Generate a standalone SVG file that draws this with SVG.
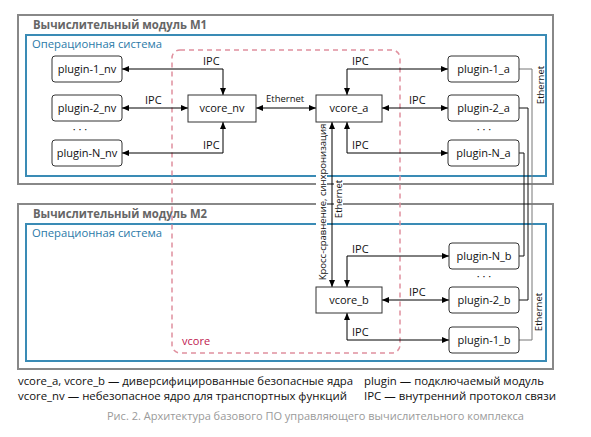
<svg xmlns="http://www.w3.org/2000/svg" width="591" height="437" viewBox="0 0 591 437">
<defs>
<marker id="ah" viewBox="0 0 7 6" refX="7" refY="3" markerWidth="7" markerHeight="6" markerUnits="userSpaceOnUse" orient="auto-start-reverse">
<path d="M0,0 L7,3 L0,6 z" fill="#000"/>
</marker>
</defs>
<style>
text{font-family:"Open Sans","DejaVu Sans",sans-serif;}
.mod{fill:none;stroke:#888;stroke-width:2;}
.os{fill:none;stroke:#3a8bb5;stroke-width:2;}
.mt{font-size:11.5px;font-weight:bold;fill:#666;}
.ot{font-size:11.3px;fill:#2a7aa8;}
.vc{fill:none;stroke:#e0909e;stroke-width:1.5;stroke-dasharray:5,4;}
.vl{font-size:11px;fill:#c0174f;}
.pl{fill:#fff;stroke:#333;stroke-width:1;}
.nt{font-size:11px;fill:#111;text-anchor:middle;}
.cn{fill:none;stroke:#000;stroke-width:1;marker-start:url(#ah);marker-end:url(#ah);}
.el{fill:none;stroke:#111;stroke-width:1;}
.lb{font-size:11px;fill:#111;}
.sm{font-size:9.5px;fill:#111;}
.dots{font-size:11px;fill:#111;text-anchor:middle;}
.lg{font-size:11.3px;fill:#111;}
.cap{font-size:11px;fill:#9a9a9a;}
</style>

<g id="module-m1">
<rect class="mod" x="18" y="15" width="535" height="169"/>
<text class="mt" x="33" y="29" textLength="174" lengthAdjust="spacingAndGlyphs">Вычислительный модуль М1</text>
<rect class="os" x="26" y="35" width="520" height="141"/>
<text class="ot" x="32" y="48" textLength="130" lengthAdjust="spacingAndGlyphs">Операционная система</text>
</g>

<g id="module-m2">
<rect class="mod" x="18" y="204" width="535" height="165"/>
<text class="mt" x="33" y="218" textLength="174" lengthAdjust="spacingAndGlyphs">Вычислительный модуль М2</text>
<rect class="os" x="26" y="224" width="520" height="137"/>
<text class="ot" x="32" y="237" textLength="130" lengthAdjust="spacingAndGlyphs">Операционная система</text>
</g>

<g id="vcore-area">
<rect class="vc" x="172" y="50" width="228" height="303" rx="8"/>
<text class="vl" x="182" y="345">vcore</text>
</g>

<g id="connectors">
<path class="cn" d="M122,69 H223 V95"/>
<path class="cn" d="M122,108 H188"/>
<path class="cn" d="M122,153 H223 V122"/>
<path class="cn" d="M256,108 H316"/>
<path class="cn" d="M448,69 H347 V95"/>
<path class="cn" d="M382,108 H448"/>
<path class="cn" d="M448,153 H347 V122"/>
<path class="cn" d="M449,256 H347 V287"/>
<path class="cn" d="M382,300 H449"/>
<path class="cn" d="M449,340 H347 V313"/>
<rect x="316" y="128" width="11" height="150" fill="#fff"/>
<rect x="334" y="180" width="9" height="39" fill="#fff"/>
<path class="cn" d="M332,122 V287"/>
<path class="el" style="stroke:#777" d="M519,69 H532 V340 H519"/>
<path class="el" d="M519,108 H528 V300 H519"/>
<path class="el" d="M519,153 H524 V256 H519"/>
<text class="lb" x="203" y="65">IPC</text>
<text class="lb" x="145" y="104">IPC</text>
<text class="lb" x="203" y="149">IPC</text>
<text class="sm" x="266" y="102">Ethernet</text>
<text class="lb" x="352" y="65">IPC</text>
<text class="lb" x="409" y="104">IPC</text>
<text class="lb" x="352" y="149">IPC</text>
<text class="lb" x="352" y="253">IPC</text>
<text class="lb" x="409" y="296">IPC</text>
<text class="lb" x="352" y="336">IPC</text>
<text class="sm" text-anchor="middle" transform="translate(325.5,202) rotate(-90)">Кросс-сравнение, синхронизация</text>
<text class="sm" text-anchor="middle" transform="translate(341.5,199) rotate(-90)">Ethernet</text>
<text class="sm" text-anchor="middle" transform="translate(544,85) rotate(-90)">Ethernet</text>
<text class="sm" text-anchor="middle" transform="translate(542,312) rotate(-90)">Ethernet</text>
</g>

<g id="plugin-1_nv"><rect class="pl" x="52" y="56" width="70" height="26" rx="3"/><text class="nt" x="87" y="73">plugin-1_nv</text></g>
<g id="plugin-2_nv"><rect class="pl" x="52" y="95" width="70" height="26" rx="3"/><text class="nt" x="87" y="112">plugin-2_nv</text></g>
<text class="dots" x="80" y="133">· · ·</text>
<g id="plugin-N_nv"><rect class="pl" x="52" y="140" width="70" height="26" rx="3"/><text class="nt" x="87" y="157">plugin-N_nv</text></g>

<g id="vcore_nv"><rect class="pl" x="188" y="95" width="68" height="27"/><text class="nt" x="222" y="112">vcore_nv</text></g>
<g id="vcore_a"><rect class="pl" x="316" y="95" width="66" height="27"/><text class="nt" x="349" y="112">vcore_a</text></g>
<g id="vcore_b"><rect class="pl" x="316" y="287" width="66" height="26"/><text class="nt" x="349" y="304">vcore_b</text></g>

<g id="plugin-1_a"><rect class="pl" x="448" y="56" width="71" height="26" rx="3"/><text class="nt" x="483.5" y="73">plugin-1_a</text></g>
<g id="plugin-2_a"><rect class="pl" x="448" y="95" width="71" height="26" rx="3"/><text class="nt" x="483.5" y="112">plugin-2_a</text></g>
<text class="dots" x="484" y="133">· · ·</text>
<g id="plugin-N_a"><rect class="pl" x="448" y="140" width="71" height="26" rx="3"/><text class="nt" x="483.5" y="157">plugin-N_a</text></g>

<g id="plugin-N_b"><rect class="pl" x="449" y="243" width="70" height="26" rx="3"/><text class="nt" x="484" y="260">plugin-N_b</text></g>
<text class="dots" x="484" y="280">· · ·</text>
<g id="plugin-2_b"><rect class="pl" x="449" y="287" width="70" height="26" rx="3"/><text class="nt" x="484" y="304">plugin-2_b</text></g>
<g id="plugin-1_b"><rect class="pl" x="449" y="327" width="70" height="26" rx="3"/><text class="nt" x="484" y="344">plugin-1_b</text></g>

<g id="legend">
<text class="lg" x="18" y="385" textLength="335" lengthAdjust="spacingAndGlyphs">vcore_a, vcore_b — диверсифицированные безопасные ядра</text>
<text class="lg" x="18" y="400" textLength="329" lengthAdjust="spacingAndGlyphs">vcore_nv — небезопасное ядро для транспортных функций</text>
<text class="lg" x="364" y="385" textLength="180" lengthAdjust="spacingAndGlyphs">plugin — подключаемый модуль</text>
<text class="lg" x="364" y="400" textLength="192" lengthAdjust="spacingAndGlyphs">IPC — внутренний протокол связи</text>
<text class="cap" x="107" y="420" textLength="417" lengthAdjust="spacingAndGlyphs">Рис. 2. Архитектура базового ПО управляющего вычислительного комплекса</text>
</g>
</svg>
